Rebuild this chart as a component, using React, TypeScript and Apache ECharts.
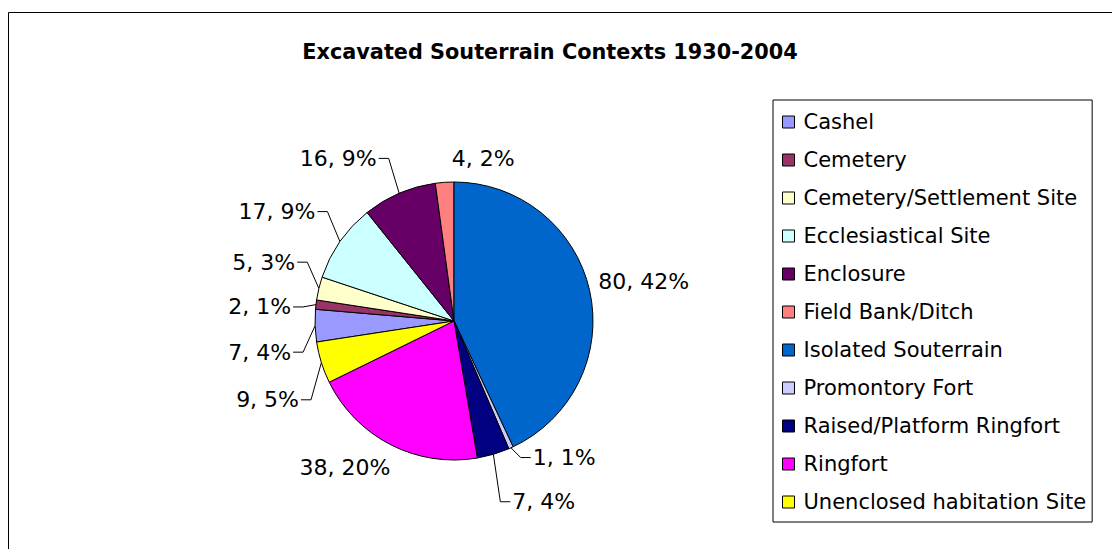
import React, { useEffect, useRef } from "react";
import * as echarts from "echarts";

const categories = [
  "Cashel",
  "Cemetery",
  "Cemetery/Settlement Site",
  "Ecclesiastical Site",
  "Enclosure",
  "Field Bank/Ditch",
  "Isolated Souterrain",
  "Promontory Fort",
  "Raised/Platform Ringfort",
  "Ringfort",
  "Unenclosed habitation Site",
];
const values = [7, 2, 5, 17, 16, 4, 80, 1, 7, 38, 9];
const percentLabels = ["4%", "1%", "3%", "9%", "9%", "2%", "42%", "1%", "4%", "20%", "5%"];
const titleText = "Excavated Souterrain Contexts 1930-2004";

// styling (kept apart from the data)
const colors = [
  "#9999FF",
  "#993366",
  "#FFFFCC",
  "#CCFFFF",
  "#660066",
  "#FF8080",
  "#0066CC",
  "#CCCCFF",
  "#000080",
  "#FF00FF",
  "#FFFF00",
];
// label nudges relative to ECharts' default outside placement: [dx, dy, align override]
const labelNudge: [number, number, string | null][] = [
  [2, 26, null],
  [1, 4, null],
  [2, -23, null],
  [-1, -22, null],
  [-5, -22, null],
  [20, -10, "left"],
  [-17, -6, null],
  [4, -3, null],
  [3, 34, null],
  [18, 10, null],
  [3, 33, null],
];
const showLeader = [true, true, true, true, true, false, false, true, true, false, true];

const FONT = "DejaVu Sans";

export default function App() {
  const ref = useRef<HTMLDivElement>(null);
  useEffect(() => {
    document.body.style.margin = "0";
    if (!ref.current) return;
    const chart = echarts.init(ref.current, null, { renderer: "svg" });
    const total = values.reduce((a, b) => a + b, 0);
    const firstIdx = categories.indexOf("Isolated Souterrain");
    const before = values.slice(0, firstIdx).reduce((a, b) => a + b, 0);
    const startAngle = 90 + (360 * before) / total;

    chart.setOption({
      animation: false,
      backgroundColor: "#ffffff",
      title: {
        text: titleText,
        left: 545,
        top: 36,
        textAlign: "center",
        textStyle: { fontFamily: FONT, fontSize: 20.8, fontWeight: "bold", color: "#000" },
      },
      legend: {
        orient: "vertical",
        left: 773,
        top: 100,
        padding: [10, 6, 8, 9],
        itemGap: 14,
        itemWidth: 12,
        itemHeight: 12,
        icon: "rect",
        borderColor: "#000",
        borderWidth: 1,
        itemStyle: { borderColor: "#000", borderWidth: 1 },
        textStyle: {
          fontFamily: FONT,
          fontSize: 21,
          color: "#000",
          lineHeight: 24,
          padding: [0, 0, 0, 4],
        },
        data: categories,
      },
      graphic: [
        {
          type: "rect",
          shape: { x: 8.5, y: 12.5, width: 1200, height: 700 },
          style: { fill: "none", stroke: "#000", lineWidth: 1 },
          silent: true,
        },
      ],
      series: [
        {
          type: "pie",
          center: [454, 321],
          radius: 139,
          startAngle,
          clockwise: true,
          avoidLabelOverlap: false,
          itemStyle: { borderColor: "#000", borderWidth: 1 },
          label: {
            show: true,
            position: "outside",
            fontFamily: FONT,
            fontSize: 22,
            color: "#000",
            distanceToLabelLine: 2,
            formatter: (p: any) => `${values[p.dataIndex]}, ${percentLabels[p.dataIndex]}`,
          },
          labelLine: {
            show: true,
            length: 14,
            length2: 10,
            lineStyle: { color: "#000", width: 1 },
          },
          labelLayout: (params: any) => {
            const nudge = labelNudge[params.dataIndex];
            if (!nudge) return {};
            const [dx, dy, alignOverride] = nudge;
            const r = params.labelRect;
            const align = params.align || "left";
            const anchorX =
              align === "right" ? r.x + r.width : align === "center" ? r.x + r.width / 2 : r.x;
            const out: any = {
              x: anchorX + dx,
              y: r.y + r.height / 2 + dy,
            };
            if (alignOverride) out.align = alignOverride;
            const pts = params.labelLinePoints;
            if (pts && pts.length === 3) {
              out.labelLinePoints = [
                [pts[0][0], pts[0][1]],
                [pts[1][0] + dx, pts[1][1] + dy],
                [pts[2][0] + dx, pts[2][1] + dy],
              ];
            }
            return out;
          },
          emphasis: { disabled: true },
          data: categories.map((name, i) => ({
            name,
            value: values[i],
            itemStyle: { color: colors[i] },
            labelLine: { show: showLeader[i] },
          })),
        },
      ],
    });
    return () => chart.dispose();
  }, []);
  return <div ref={ref} style={{ width: 1112, height: 549 }} />;
}
